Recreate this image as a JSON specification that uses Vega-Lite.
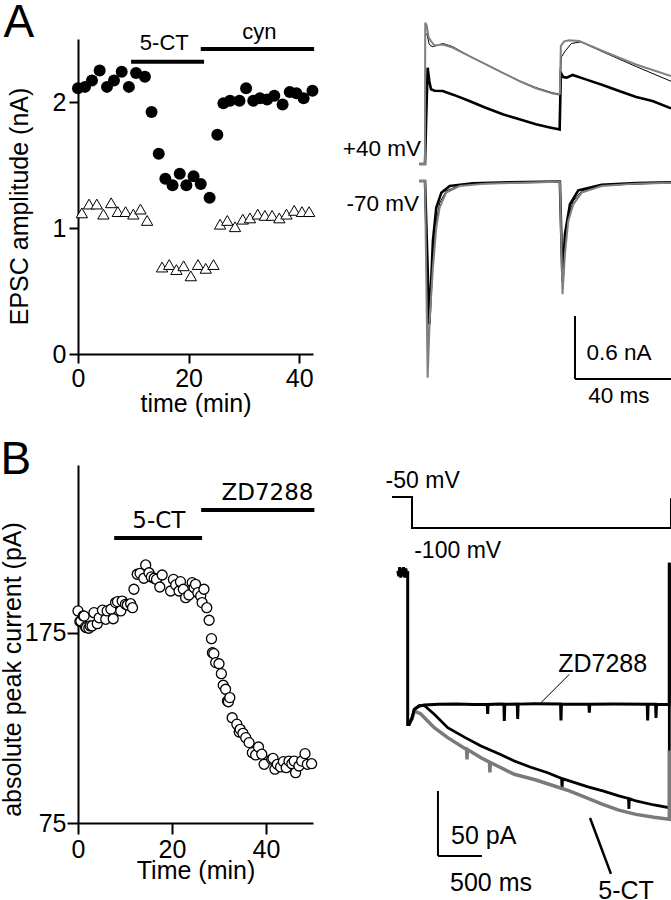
{
  "$schema": "https://vega.github.io/schema/vega-lite/v6.json",
  "background": "white",
  "padding": {"left": 0, "top": 0, "right": 0, "bottom": 0},
  "bounds": "flush",
  "columns": 2,
  "spacing": {"row": 111, "column": 18},
  "datasets": {
    "a_circ": [
      {"t":0,"v":2.11},{"t":1.27,"v":2.12},{"t":2.53,"v":2.17},{"t":3.92,"v":2.25},{"t":5.24,"v":2.12},{"t":6.51,"v":2.17},{"t":7.9,"v":2.24},{"t":9.2,"v":2.12},{"t":10.5,"v":2.23},{"t":12.1,"v":2.2},{"t":13.3,"v":1.92},{"t":14.6,"v":1.59},{"t":15.8,"v":1.39},{"t":17.1,"v":1.34},{"t":18.4,"v":1.43},{"t":19.6,"v":1.34},{"t":20.9,"v":1.41},{"t":22.2,"v":1.35},{"t":23.8,"v":1.24},{"t":25.2,"v":1.74},{"t":26.3,"v":1.99},{"t":27.5,"v":2.01},{"t":29.2,"v":2.01},{"t":30.4,"v":2.11},{"t":31.7,"v":2.01},{"t":32.9,"v":2.03},{"t":34.2,"v":2.02},{"t":35.5,"v":2.05},{"t":37.0,"v":1.98},{"t":38.3,"v":2.08},{"t":39.5,"v":2.07},{"t":40.8,"v":2.03},{"t":42.4,"v":2.09}
    ],
    "a_tri": [
      {"t":0.7,"v":1.12},{"t":2.0,"v":1.19},{"t":3.4,"v":1.19},{"t":4.6,"v":1.11},{"t":6.0,"v":1.2},{"t":7.2,"v":1.13},{"t":8.6,"v":1.13},{"t":10.0,"v":1.11},{"t":11.3,"v":1.15},{"t":12.5,"v":1.06},{"t":15.2,"v":0.69},{"t":16.5,"v":0.71},{"t":17.8,"v":0.67},{"t":19.1,"v":0.7},{"t":20.4,"v":0.62},{"t":21.7,"v":0.71},{"t":23.1,"v":0.68},{"t":24.5,"v":0.71},{"t":25.7,"v":1.03},{"t":27.0,"v":1.06},{"t":28.4,"v":1.01},{"t":29.8,"v":1.07},{"t":31.1,"v":1.08},{"t":32.5,"v":1.11},{"t":33.8,"v":1.1},{"t":35.1,"v":1.1},{"t":36.4,"v":1.08},{"t":37.7,"v":1.11},{"t":39.1,"v":1.14},{"t":40.5,"v":1.13},{"t":41.8,"v":1.13}
    ],
    "a_bars": [
      {"drug":"5-CT","t":9.6,"t2":22.8,"v":2.32},
      {"drug":"cyn","t":22.2,"t2":42.7,"v":2.42}
    ],
    "a_bar_labels": [
      {"label":"5-CT","t":15.6,"v":2.47},
      {"label":"cyn","t":32.8,"v":2.557}
    ],
    "b_circ": [
      {"t":0,"v":186.6},{"t":0.4,"v":181},{"t":0.6,"v":181.3},{"t":1.1,"v":184},{"t":1.3,"v":183.9},{"t":1.6,"v":178.2},{"t":1.8,"v":177.8},{"t":2.3,"v":177.5},{"t":2.6,"v":178.7},{"t":3.0,"v":178.7},{"t":3.4,"v":185.7},{"t":4.1,"v":179.9},{"t":4.5,"v":183},{"t":5.2,"v":187},{"t":5.9,"v":182.2},{"t":6.2,"v":186.6},{"t":7.0,"v":187.5},{"t":7.5,"v":182.5},{"t":8.0,"v":191},{"t":8.4,"v":191.5},{"t":9.1,"v":186.6},{"t":9.4,"v":191.8},{"t":10.1,"v":190.1},{"t":10.5,"v":189.7},{"t":11.2,"v":190.4},{"t":11.6,"v":188.3},{"t":11.9,"v":198},{"t":12.6,"v":205.9},{"t":13.2,"v":206.4},{"t":14.0,"v":203.8},{"t":14.4,"v":210.8},{"t":15.1,"v":206.7},{"t":15.6,"v":204.5},{"t":16.2,"v":203.8},{"t":16.7,"v":203.2},{"t":17.4,"v":199.2},{"t":17.9,"v":205.5},{"t":19.7,"v":197.1},{"t":20.3,"v":203.2},{"t":20.8,"v":200.3},{"t":21.5,"v":197.1},{"t":21.8,"v":202},{"t":22.4,"v":198},{"t":22.9,"v":193.6},{"t":23.6,"v":195},{"t":24.3,"v":201.5},{"t":24.7,"v":198.8},{"t":25.0,"v":200.6},{"t":25.5,"v":196.2},{"t":26.1,"v":194.5},{"t":26.4,"v":191},{"t":26.8,"v":198},{"t":27.4,"v":188.3},{"t":27.9,"v":181.7},{"t":28.4,"v":172},{"t":28.6,"v":164.6},{"t":28.9,"v":164.1},{"t":29.3,"v":159.4},{"t":30.0,"v":158.8},{"t":30.5,"v":153.6},{"t":30.9,"v":147.5},{"t":31.4,"v":145.4},{"t":31.8,"v":139.2},{"t":32.0,"v":138.8},{"t":32.3,"v":141},{"t":32.8,"v":130.4},{"t":33.8,"v":127},{"t":34.3,"v":122.9},{"t":34.5,"v":124.3},{"t":35.1,"v":122.2},{"t":35.7,"v":119.9},{"t":36.4,"v":117.3},{"t":37.1,"v":112},{"t":37.8,"v":110.8},{"t":38.4,"v":115},{"t":39.1,"v":111.2},{"t":39.6,"v":105.9},{"t":41.2,"v":108.5},{"t":41.5,"v":109},{"t":41.9,"v":103.3},{"t":42.4,"v":105.9},{"t":43.1,"v":104.5},{"t":43.7,"v":107.3},{"t":44.3,"v":104.1},{"t":44.9,"v":107.6},{"t":45.5,"v":106.2},{"t":46.0,"v":107.6},{"t":46.3,"v":101.5},{"t":47.0,"v":105},{"t":47.6,"v":107.6},{"t":48.3,"v":111.5},{"t":48.8,"v":105.9},{"t":49.7,"v":106.2}
    ],
    "b_bars": [
      {"drug":"5-CT","t":7.7,"t2":26.4,"v":225},
      {"drug":"ZD7288","t":26.2,"t2":50.3,"v":239.7}
    ],
    "b_bar_labels": [
      {"label":"5-CT","t":17.2,"v":233.9},
      {"label":"ZD7288","t":40.3,"v":248.8}
    ],
    "ar_gray": [
      {"hold":"+40","i":0,"t":-2.5,"v":0.162},{"hold":"+40","i":1,"t":0,"v":0.162},{"hold":"+40","i":2,"t":0.1,"v":1.508},{"hold":"+40","i":3,"t":0.7,"v":1.48},{"hold":"+40","i":4,"t":1.5,"v":1.37},{"hold":"+40","i":5,"t":2.5,"v":1.333},{"hold":"+40","i":6,"t":3.9,"v":1.29},{"hold":"+40","i":7,"t":7.4,"v":1.3},{"hold":"+40","i":8,"t":11.5,"v":1.27},{"hold":"+40","i":9,"t":18.5,"v":1.19},{"hold":"+40","i":10,"t":25.4,"v":1.11},{"hold":"+40","i":11,"t":32.4,"v":1.03},{"hold":"+40","i":12,"t":39.3,"v":0.952},{"hold":"+40","i":13,"t":46.2,"v":0.883},{"hold":"+40","i":14,"t":53.2,"v":0.832},{"hold":"+40","i":15,"t":55.7,"v":0.825},{"hold":"+40","i":16,"t":56.2,"v":0.83},{"hold":"+40","i":17,"t":56.6,"v":1.286},{"hold":"+40","i":18,"t":58,"v":1.33},{"hold":"+40","i":19,"t":60.1,"v":1.34},{"hold":"+40","i":20,"t":64.3,"v":1.333},{"hold":"+40","i":21,"t":74,"v":1.238},{"hold":"+40","i":22,"t":87.9,"v":1.11},{"hold":"+40","i":23,"t":102.5,"v":1.0},
      {"hold":"-70","i":0,"t":-2.5,"v":0},{"hold":"-70","i":1,"t":0,"v":0},{"hold":"-70","i":2,"t":1.1,"v":-1.873},{"hold":"-70","i":3,"t":2,"v":-1.3},{"hold":"-70","i":4,"t":3.3,"v":-0.825},{"hold":"-70","i":5,"t":4.7,"v":-0.444},{"hold":"-70","i":6,"t":6.1,"v":-0.254},{"hold":"-70","i":7,"t":8.8,"v":-0.111},{"hold":"-70","i":8,"t":14.4,"v":-0.048},{"hold":"-70","i":9,"t":25.4,"v":-0.025},{"hold":"-70","i":10,"t":40,"v":-0.016},{"hold":"-70","i":11,"t":55.7,"v":-0.006},{"hold":"-70","i":12,"t":56.2,"v":-0.006},{"hold":"-70","i":13,"t":57.3,"v":-1.079},{"hold":"-70","i":14,"t":58.3,"v":-0.696},{"hold":"-70","i":15,"t":59.7,"v":-0.381},{"hold":"-70","i":16,"t":61.8,"v":-0.222},{"hold":"-70","i":17,"t":65.3,"v":-0.111},{"hold":"-70","i":18,"t":73.6,"v":-0.048},{"hold":"-70","i":19,"t":88,"v":-0.025},{"hold":"-70","i":20,"t":102.5,"v":-0.016}
    ],
    "ar_thin": [
      {"hold":"+40","i":0,"t":-2.5,"v":0.162},{"hold":"+40","i":1,"t":0,"v":0.162},{"hold":"+40","i":2,"t":0.2,"v":1.4},{"hold":"+40","i":3,"t":0.8,"v":1.4},{"hold":"+40","i":4,"t":1.8,"v":1.3},{"hold":"+40","i":5,"t":3,"v":1.28},{"hold":"+40","i":6,"t":5,"v":1.29},{"hold":"+40","i":7,"t":7.4,"v":1.31},{"hold":"+40","i":8,"t":11.5,"v":1.28},{"hold":"+40","i":9,"t":18.5,"v":1.19},{"hold":"+40","i":10,"t":25.4,"v":1.11},{"hold":"+40","i":11,"t":32.4,"v":1.03},{"hold":"+40","i":12,"t":39.3,"v":0.955},{"hold":"+40","i":13,"t":46.2,"v":0.89},{"hold":"+40","i":14,"t":53.2,"v":0.84},{"hold":"+40","i":15,"t":55.7,"v":0.83},{"hold":"+40","i":16,"t":56.2,"v":0.83},{"hold":"+40","i":17,"t":56.8,"v":1.18},{"hold":"+40","i":18,"t":58.5,"v":1.24},{"hold":"+40","i":19,"t":61,"v":1.31},{"hold":"+40","i":20,"t":65,"v":1.325},{"hold":"+40","i":21,"t":74,"v":1.23},{"hold":"+40","i":22,"t":88,"v":1.09},{"hold":"+40","i":23,"t":102.5,"v":0.95},
      {"hold":"-70","i":0,"t":-2.5,"v":0},{"hold":"-70","i":1,"t":0,"v":0},{"hold":"-70","i":2,"t":1.2,"v":-1.7},{"hold":"-70","i":3,"t":2.2,"v":-1.1},{"hold":"-70","i":4,"t":3.3,"v":-0.7},{"hold":"-70","i":5,"t":4.7,"v":-0.38},{"hold":"-70","i":6,"t":6.1,"v":-0.21},{"hold":"-70","i":7,"t":8.8,"v":-0.095},{"hold":"-70","i":8,"t":14.4,"v":-0.042},{"hold":"-70","i":9,"t":25.4,"v":-0.02},{"hold":"-70","i":10,"t":55.7,"v":-0.005},{"hold":"-70","i":11,"t":56.2,"v":-0.005},{"hold":"-70","i":12,"t":57.3,"v":-1.0},{"hold":"-70","i":13,"t":58.3,"v":-0.63},{"hold":"-70","i":14,"t":59.7,"v":-0.34},{"hold":"-70","i":15,"t":61.8,"v":-0.19},{"hold":"-70","i":16,"t":65.3,"v":-0.095},{"hold":"-70","i":17,"t":73.6,"v":-0.042},{"hold":"-70","i":18,"t":102.5,"v":-0.014}
    ],
    "ar_thick": [
      {"hold":"+40","i":0,"t":-2.5,"v":0.162},{"hold":"+40","i":1,"t":0,"v":0.162},{"hold":"+40","i":2,"t":0.5,"v":0.6},{"hold":"+40","i":3,"t":1.1,"v":1.079},{"hold":"+40","i":4,"t":1.8,"v":0.95},{"hold":"+40","i":5,"t":2.5,"v":0.873},{"hold":"+40","i":6,"t":4,"v":0.86},{"hold":"+40","i":7,"t":7.4,"v":0.857},{"hold":"+40","i":8,"t":12,"v":0.82},{"hold":"+40","i":9,"t":18.5,"v":0.762},{"hold":"+40","i":10,"t":25,"v":0.7},{"hold":"+40","i":11,"t":32.4,"v":0.635},{"hold":"+40","i":12,"t":39,"v":0.59},{"hold":"+40","i":13,"t":46.2,"v":0.54},{"hold":"+40","i":14,"t":52,"v":0.51},{"hold":"+40","i":15,"t":55.7,"v":0.492},{"hold":"+40","i":16,"t":56.1,"v":0.49},{"hold":"+40","i":17,"t":56.6,"v":1.031},{"hold":"+40","i":18,"t":57.6,"v":0.99},{"hold":"+40","i":19,"t":59,"v":0.985},{"hold":"+40","i":20,"t":61.5,"v":1.01},{"hold":"+40","i":21,"t":67,"v":0.968},{"hold":"+40","i":22,"t":74,"v":0.915},{"hold":"+40","i":23,"t":80.9,"v":0.857},{"hold":"+40","i":24,"t":88,"v":0.8},{"hold":"+40","i":25,"t":94.8,"v":0.762},{"hold":"+40","i":26,"t":102.5,"v":0.692},
      {"hold":"-70","i":0,"t":-2.5,"v":0},{"hold":"-70","i":1,"t":0,"v":0},{"hold":"-70","i":2,"t":1.8,"v":-1.365},{"hold":"-70","i":3,"t":2.5,"v":-1.0},{"hold":"-70","i":4,"t":3.3,"v":-0.571},{"hold":"-70","i":5,"t":4.7,"v":-0.254},{"hold":"-70","i":6,"t":6.8,"v":-0.111},{"hold":"-70","i":7,"t":10.3,"v":-0.048},{"hold":"-70","i":8,"t":20,"v":-0.022},{"hold":"-70","i":9,"t":35,"v":-0.012},{"hold":"-70","i":10,"t":55.7,"v":-0.005},{"hold":"-70","i":11,"t":56.2,"v":-0.005},{"hold":"-70","i":12,"t":57.3,"v":-0.952},{"hold":"-70","i":13,"t":58.3,"v":-0.508},{"hold":"-70","i":14,"t":60.4,"v":-0.222},{"hold":"-70","i":15,"t":63.9,"v":-0.089},{"hold":"-70","i":16,"t":73.6,"v":-0.035},{"hold":"-70","i":17,"t":88,"v":-0.02},{"hold":"-70","i":18,"t":102.5,"v":-0.012}
    ],
    "ar_scale": [
      {"t":62.5,"v":-1.286,"t2":62.5,"v2":-1.886},
      {"t":62.5,"v":-1.886,"t2":102.5,"v2":-1.886}
    ],
    "step": [
      {"i":0,"t":-227,"mv":-50},{"i":1,"t":0,"mv":-50},{"i":2,"t":0,"mv":-100},{"i":3,"t":2943,"mv":-100},{"i":4,"t":2943,"mv":-52}
    ],
    "br_zd": [
      {"i":0,"t":-162,"v":0},{"i":1,"t":-150,"v":-4},{"i":2,"t":-140,"v":3},{"i":3,"t":-128,"v":-5},{"i":4,"t":-118,"v":2},{"i":5,"t":-105,"v":-4},{"i":6,"t":-95,"v":3},{"i":7,"t":-82,"v":-5},{"i":8,"t":-70,"v":2},{"i":9,"t":-60,"v":-4},{"i":10,"t":-49,"v":0},
      {"i":11,"t":-49,"v":-118},{"i":12,"t":-30,"v":-118},{"i":13,"t":0,"v":-113},{"i":14,"t":26,"v":-106.4},{"i":15,"t":80,"v":-104},{"i":16,"t":140,"v":-103},{"i":17,"t":300,"v":-102.5},{"i":18,"t":500,"v":-102.3},{"i":19,"t":700,"v":-102.6},
      {"i":20,"t":855,"v":-102.6},{"i":21,"t":860,"v":-110},{"i":22,"t":865,"v":-102.6},{"i":23,"t":1000,"v":-102.3},{"i":24,"t":1044,"v":-102.5},{"i":25,"t":1049,"v":-115.4},{"i":26,"t":1054,"v":-102.5},{"i":27,"t":1196,"v":-102.4},{"i":28,"t":1201,"v":-113.8},{"i":29,"t":1206,"v":-102.4},{"i":30,"t":1400,"v":-102.2},{"i":31,"t":1688,"v":-102.3},{"i":32,"t":1693,"v":-115},{"i":33,"t":1698,"v":-102.3},{"i":34,"t":2010,"v":-102.5},{"i":35,"t":2015,"v":-109},{"i":36,"t":2020,"v":-102.5},{"i":37,"t":2300,"v":-102.3},{"i":38,"t":2673,"v":-102.5},{"i":39,"t":2678,"v":-115},{"i":40,"t":2683,"v":-102.5},{"i":41,"t":2768,"v":-102.5},{"i":42,"t":2773,"v":-113},{"i":43,"t":2778,"v":-102.5},{"i":44,"t":2924,"v":-102.7},{"i":45,"t":2924,"v":6.4}
    ],
    "br_ctrl": [
      {"i":0,"t":-49,"v":-118},{"i":1,"t":0,"v":-114},{"i":2,"t":26,"v":-106.4},{"i":3,"t":80,"v":-103.5},{"i":4,"t":140,"v":-103.5},{"i":5,"t":253,"v":-110.2},{"i":6,"t":406,"v":-120.5},{"i":7,"t":600,"v":-128},{"i":8,"t":784,"v":-134.6},{"i":9,"t":1000,"v":-141},{"i":10,"t":1163,"v":-146.2},{"i":11,"t":1350,"v":-151},{"i":12,"t":1542,"v":-155.2},{"i":13,"t":1700,"v":-159.5},{"i":14,"t":1705,"v":-168},{"i":15,"t":1710,"v":-159.8},{"i":16,"t":1788,"v":-161.5},{"i":17,"t":2000,"v":-166},{"i":18,"t":2167,"v":-169.2},{"i":19,"t":2350,"v":-173},{"i":20,"t":2460,"v":-175},{"i":21,"t":2465,"v":-183},{"i":22,"t":2470,"v":-175.2},{"i":23,"t":2545,"v":-176.9},{"i":24,"t":2750,"v":-180},{"i":25,"t":2924,"v":-182.1},{"i":26,"t":2924,"v":6.4}
    ],
    "br_gray": [
      {"i":0,"t":-49,"v":-118},{"i":1,"t":0,"v":-114},{"i":2,"t":26,"v":-107.7},{"i":3,"t":100,"v":-110},{"i":4,"t":253,"v":-120.5},{"i":5,"t":406,"v":-128.2},{"i":6,"t":600,"v":-136.5},{"i":7,"t":620,"v":-137},{"i":8,"t":625,"v":-145},{"i":9,"t":630,"v":-137.3},{"i":10,"t":784,"v":-143.6},{"i":11,"t":880,"v":-147},{"i":12,"t":885,"v":-155},{"i":13,"t":890,"v":-147.3},{"i":14,"t":1000,"v":-151},{"i":15,"t":1163,"v":-156.4},{"i":16,"t":1409,"v":-160.8},{"i":17,"t":1600,"v":-165},{"i":18,"t":1788,"v":-169.2},{"i":19,"t":2000,"v":-175},{"i":20,"t":2167,"v":-179.5},{"i":21,"t":2350,"v":-184},{"i":22,"t":2545,"v":-187.2},{"i":23,"t":2750,"v":-189.5},{"i":24,"t":2924,"v":-191},{"i":25,"t":2924,"v":-138}
    ],
    "br_scale": [
      {"t":295,"v":-169.2,"t2":295,"v2":-219.2},
      {"t":295,"v":-219.2,"t2":795,"v2":-219.2}
    ]
  },
  "concat": [
    {
      "width": 235,
      "height": 315,
      "encoding": {
        "x": {"field": "t", "type": "quantitative", "scale": {"domain": [0, 42.5], "nice": false, "zero": false}, "axis": {"values": [0, 20, 40], "title": "time (min)", "tickSize": 9, "labelPadding": 3, "titlePadding": 0}},
        "y": {"field": "v", "type": "quantitative", "scale": {"domain": [0, 2.5], "nice": false, "zero": false}, "axis": {"values": [0, 1, 2], "title": "EPSC amplitude (nA)", "tickSize": 9, "labelPadding": 3, "titlePadding": 20, "titleY": 167}}
      },
      "layer": [
        {"data": {"name": "a_bars"}, "mark": {"type": "rule", "strokeWidth": 4, "color": "black"}, "encoding": {"x2": {"field": "t2"}}},
        {"data": {"name": "a_bar_labels"}, "mark": {"type": "text", "fontSize": 22, "align": "center", "baseline": "middle", "font": "Liberation Sans"}, "encoding": {"text": {"field": "label"}}},
        {"data": {"name": "a_tri"}, "mark": {"type": "point", "shape": "triangle-up", "size": 128, "filled": true, "fill": "white", "stroke": "black", "strokeWidth": 1, "opacity": 1}},
        {"data": {"name": "a_circ"}, "mark": {"type": "circle", "size": 144, "color": "black", "opacity": 1}},
        {"data": {"values": [{"label": "A", "t": -13.46, "v": 2.8}]}, "mark": {"type": "text", "fontSize": 46, "align": "left", "baseline": "top", "font": "Liberation Sans"}, "encoding": {"text": {"field": "label"}}}
      ]
    },
    {
      "width": 341,
      "height": 315,
      "encoding": {
        "x": {"field": "t", "type": "quantitative", "scale": {"domain": [-39.17, 102.92], "nice": false, "zero": false}, "axis": null},
        "y": {"field": "v", "type": "quantitative", "scale": {"domain": [-1.6476, 1.3524], "nice": false, "zero": false}, "axis": null}
      },
      "layer": [
        {"data": {"name": "ar_thick"}, "mark": {"type": "line", "color": "black", "strokeWidth": 2.6}, "encoding": {"detail": {"field": "hold"}, "order": {"field": "i"}}},
        {"data": {"name": "ar_thin"}, "mark": {"type": "line", "color": "black", "strokeWidth": 1}, "encoding": {"detail": {"field": "hold"}, "order": {"field": "i"}}},
        {"data": {"name": "ar_gray"}, "mark": {"type": "line", "color": "#808080", "strokeWidth": 2}, "encoding": {"detail": {"field": "hold"}, "order": {"field": "i"}}},
        {"data": {"name": "ar_scale"}, "mark": {"type": "rule", "strokeWidth": 2, "color": "black"}, "encoding": {"x2": {"field": "t2"}, "y2": {"field": "v2"}}},
        {"data": {"values": [{"label": "+40 mV", "t": -1.67, "v": 0.305}, {"label": "-70 mV", "t": -2.5, "v": -0.219}]}, "mark": {"type": "text", "fontSize": 22.5, "align": "right", "baseline": "middle", "font": "Liberation Sans"}, "encoding": {"text": {"field": "label"}}},
        {"data": {"values": [{"label": "0.6 nA", "t": 80.8, "v": -1.638}, {"label": "40 ms", "t": 80.8, "v": -2.048}]}, "mark": {"type": "text", "fontSize": 22.5, "align": "center", "baseline": "middle", "font": "Liberation Sans"}, "encoding": {"text": {"field": "label"}}}
      ]
    },
    {
      "width": 235,
      "height": 358,
      "encoding": {
        "x": {"field": "t", "type": "quantitative", "scale": {"domain": [0, 50], "nice": false, "zero": false}, "axis": {"values": [0, 20, 40], "title": "Time (min)", "tickSize": 11, "labelPadding": 3, "titlePadding": -4}},
        "y": {"field": "v", "type": "quantitative", "scale": {"domain": [75, 263.4], "nice": false, "zero": false}, "axis": {"values": [75, 175], "title": "absolute peak current (pA)", "tickSize": 11, "labelPadding": 1, "titlePadding": -1, "titleY": 204}}
      },
      "layer": [
        {"data": {"name": "b_bars"}, "mark": {"type": "rule", "strokeWidth": 4, "color": "black"}, "encoding": {"x2": {"field": "t2"}}},
        {"data": {"name": "b_bar_labels"}, "mark": {"type": "text", "fontSize": 23, "align": "center", "baseline": "middle", "font": "DejaVu Sans"}, "encoding": {"text": {"field": "label"}}},
        {"data": {"name": "b_circ"}, "mark": {"type": "point", "shape": "circle", "size": 100, "filled": true, "fill": "white", "stroke": "black", "strokeWidth": 1.3, "opacity": 1}},
        {"data": {"values": [{"label": "B", "t": -16.5, "v": 277.6}]}, "mark": {"type": "text", "fontSize": 46, "align": "left", "baseline": "top", "font": "Liberation Sans"}, "encoding": {"text": {"field": "label"}}}
      ]
    },
    {
      "width": 341,
      "height": 358,
      "encoding": {
        "x": {"field": "t", "type": "quantitative", "scale": {"domain": [-920.5, 2954.5], "nice": false, "zero": false}, "axis": null}
      },
      "resolve": {"scale": {"y": "independent"}},
      "layer": [
        {
          "encoding": {
            "y": {"field": "mv", "type": "quantitative", "scale": {"domain": [-575.81, 1.61], "nice": false, "zero": false}, "axis": null}
          },
          "layer": [
            {"data": {"name": "step"}, "mark": {"type": "line", "color": "black", "strokeWidth": 2}, "encoding": {"order": {"field": "i"}}},
            {"data": {"values": [{"label": "-50 mV", "t": 121, "mv": -24.2}, {"label": "-100 mV", "t": 519, "mv": -137}]}, "mark": {"type": "text", "fontSize": 23, "align": "center", "baseline": "middle", "font": "Liberation Sans"}, "encoding": {"text": {"field": "label"}}}
          ]
        },
        {
          "encoding": {
            "y": {"field": "v", "type": "quantitative", "scale": {"domain": [-193.85, 81.54], "nice": false, "zero": false}, "axis": null}
          },
          "layer": [
            {"data": {"name": "br_ctrl"}, "mark": {"type": "line", "color": "black", "strokeWidth": 2.8}, "encoding": {"order": {"field": "i"}}},
            {"data": {"name": "br_gray"}, "mark": {"type": "line", "color": "#7a7a7a", "strokeWidth": 3.5}, "encoding": {"order": {"field": "i"}}},
            {"data": {"name": "br_zd"}, "mark": {"type": "line", "color": "black", "strokeWidth": 3}, "encoding": {"order": {"field": "i"}}},
            {"data": {"name": "br_scale"}, "mark": {"type": "rule", "strokeWidth": 2, "color": "black"}, "encoding": {"x2": {"field": "t2"}, "y2": {"field": "v2"}}},
            {"data": {"values": [{"t": 2023, "v": -190, "t2": 2261, "v2": -233}]}, "mark": {"type": "rule", "strokeWidth": 2.5, "color": "black"}, "encoding": {"x2": {"field": "t2"}, "y2": {"field": "v2"}}},
            {"data": {"values": [{"t": 1788, "v": -79.5, "t2": 1466, "v2": -101.3}]}, "mark": {"type": "rule", "strokeWidth": 1, "color": "black"}, "encoding": {"x2": {"field": "t2"}, "y2": {"field": "v2"}}},
            {"data": {"values": [{"label": "50 pA", "t": 443, "v": -203.8}]}, "mark": {"type": "text", "fontSize": 25, "align": "left", "baseline": "middle", "font": "Liberation Sans"}, "encoding": {"text": {"field": "label"}}},
            {"data": {"values": [{"label": "500 ms", "t": 898, "v": -239.8}, {"label": "5-CT", "t": 2432, "v": -246}, {"label": "ZD7288", "t": 2167, "v": -71.8}]}, "mark": {"type": "text", "fontSize": 25, "align": "center", "baseline": "middle", "font": "Liberation Sans"}, "encoding": {"text": {"field": "label"}}}
          ]
        }
      ]
    }
  ],
  "config": {
    "view": {"stroke": null},
    "font": "Liberation Sans",
    "axis": {
      "domainColor": "black", "domainWidth": 2, "tickColor": "black", "tickWidth": 2, "tickSize": 10,
      "labelFont": "Liberation Sans", "labelFontSize": 25, "labelColor": "black", "labelPadding": 2,
      "titleFont": "Liberation Sans", "titleFontSize": 25, "titleFontWeight": "normal", "titleColor": "black",
      "grid": false, "labelFlush": false, "labelOverlap": false
    }
  }
}
